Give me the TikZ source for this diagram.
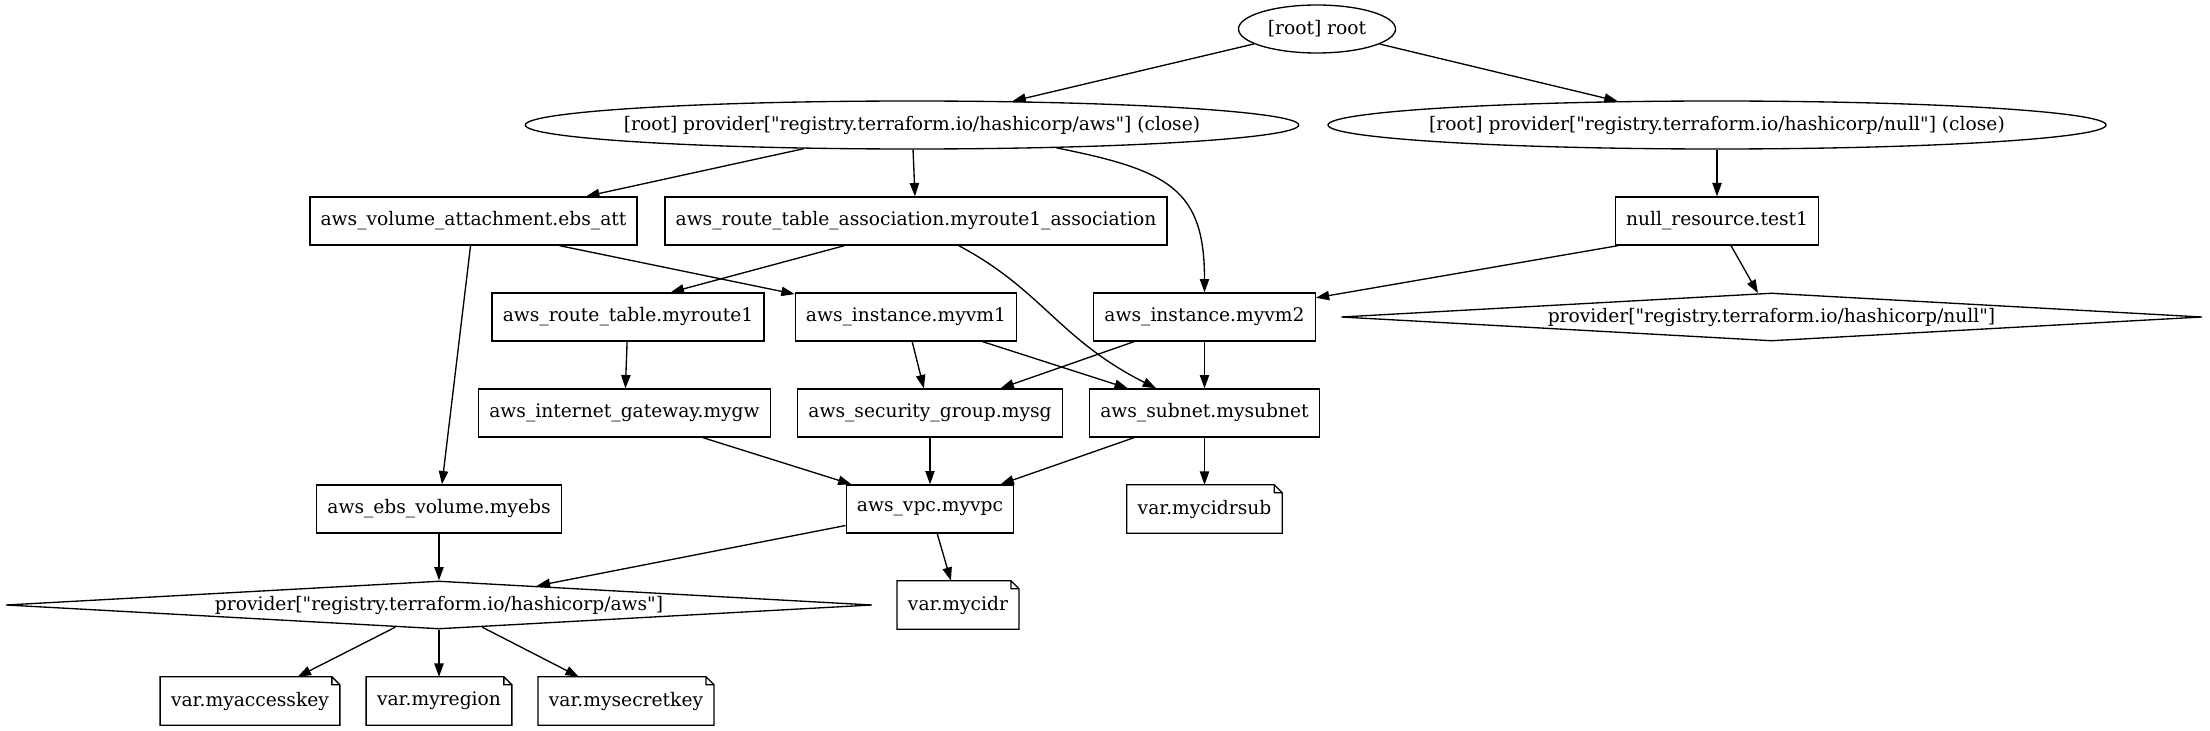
\documentclass[tikz,border=0pt]{standalone}
\usepackage{fontspec}
\setmainfont{DejaVu Serif}[Ligatures=TeXOff]
\usetikzlibrary{shapes.geometric, arrows.meta}

\begin{document}
\begin{tikzpicture}[
    x=0.75pt, y=-0.75pt,
    every node/.style={font=\fontsize{14pt}{17pt}\selectfont},
    % Node styles
    tfres/.style={
        rectangle,
        draw,
        line width=1pt,
        minimum height=36pt,
        inner xsep=8pt
    },
    tfroot/.style={
        ellipse,
        draw,
        line width=1pt,
        minimum width=#1,
        minimum height=36pt,
        inner xsep=-30pt,
        inner ysep=0pt
    },
    tfprov/.style={
        diamond,
        draw,
        line width=1pt,
        aspect=18,
        minimum width=#1,
        minimum height=36pt,
        inner sep=0pt
    },
    tfvar/.style={
        rectangle,
        minimum height=36pt,
        inner xsep=8pt,
        append after command={\pgfextra{\draw[line width=1pt]
            (\tikzlastnode.north west) -- ([xshift=-6pt]\tikzlastnode.north east)
            -- ([yshift=-6pt]\tikzlastnode.north east) -- (\tikzlastnode.south east)
            -- (\tikzlastnode.south west) -- cycle
            ([xshift=-6pt]\tikzlastnode.north east) |- ([yshift=-6pt]\tikzlastnode.north east);}}
    },
    dep/.style={
        -{Triangle[length=10pt, width=7pt]},
        line width=1pt
    }
]
\useasboundingbox (0,0) rectangle (2210,731);

% ============================================
% ROOT AND PROVIDER CLOSE NODES
% ============================================
\node[tfroot=117.75pt] (root) at (1317,29) {[root] root};
\node[tfroot=580pt] (provaws) at (912,125) {[root] provider["registry.terraform.io/hashicorp/aws"] (close)};
\node[tfroot=583.5pt] (provnull) at (1717,125) {[root] provider["registry.terraform.io/hashicorp/null"] (close)};

% ============================================
% RESOURCES
% ============================================
\node[tfres] (ebsatt) at (473.5,221) {aws\_volume\_attachment.ebs\_att};
\node[tfres] (routeassoc) at (916,221) {aws\_route\_table\_association.myroute1\_association};
\node[tfres] (nullres) at (1717,221) {null\_resource.test1};

\node[tfres] (routetable) at (628,317) {aws\_route\_table.myroute1};
\node[tfres] (myvm1) at (906,317) {aws\_instance.myvm1};
\node[tfres] (myvm2) at (1204.5,317) {aws\_instance.myvm2};

\node[tfres] (igw) at (624.5,413) {aws\_internet\_gateway.mygw};
\node[tfres] (mysg) at (930,413) {aws\_security\_group.mysg};
\node[tfres] (mysubnet) at (1204.5,413) {aws\_subnet.mysubnet};

\node[tfres] (ebs) at (439,509) {aws\_ebs\_volume.myebs};
\node[tfres] (vpc) at (930,509) {aws\_vpc.myvpc};

% ============================================
% PROVIDERS
% ============================================
\node[tfprov=645.75pt] (pnull) at (1771.5,317) {provider["registry.terraform.io/hashicorp/null"]};
\node[tfprov=649.5pt] (paws) at (439,605) {provider["registry.terraform.io/hashicorp/aws"]};

% ============================================
% VARIABLES
% ============================================
\node[tfvar] (mycidrsub) at (1204.5,509) {var.mycidrsub};
\node[tfvar] (mycidr) at (958,605) {var.mycidr};
\node[tfvar] (accesskey) at (250,701) {var.myaccesskey};
\node[tfvar] (myregion) at (439,701) {var.myregion};
\node[tfvar] (secretkey) at (626,701) {var.mysecretkey};

% ============================================
% DEPENDENCIES
% ============================================

% root
\draw[dep] (root) -- (provaws);
\draw[dep] (root) -- (provnull);

% provider aws (close)
\draw[dep] (provaws) -- (ebsatt);
\draw[dep] (provaws) -- (routeassoc);
\draw[dep] (provaws.-9.5) .. controls +(113,22.5) and +(0,-103) .. (myvm2.north);

% provider null (close)
\draw[dep] (provnull) -- (nullres);
\draw[dep] (nullres.-166) -- (myvm2);
\draw[dep] (nullres) -- (pnull);

% volume attachment
\draw[dep] (ebsatt.-16) -- (myvm1);
\draw[dep] (ebsatt) -- (ebs);

% route table association
\draw[dep] (routeassoc.-161) -- (routetable.30);
\draw[dep] (routeassoc.-30.3) .. controls +(83,44) and +(-97,-49) .. (mysubnet.153);

% instances
\draw[dep] (routetable) -- (igw);
\draw[dep] (myvm1) -- (mysg);
\draw[dep] (myvm1) -- (mysubnet);
\draw[dep] (myvm2) -- (mysg);
\draw[dep] (myvm2) -- (mysubnet);

% network
\draw[dep] (igw) -- (vpc);
\draw[dep] (mysg) -- (vpc);
\draw[dep] (mysubnet) -- (vpc);
\draw[dep] (mysubnet) -- (mycidrsub);

% vpc and volume
\draw[dep] (ebs) -- (paws);
\draw[dep] (vpc) -- (paws);
\draw[dep] (vpc) -- (mycidr);

% provider aws
\draw[dep] (paws) -- (accesskey);
\draw[dep] (paws) -- (myregion);
\draw[dep] (paws) -- (secretkey);

\end{tikzpicture}
\end{document}
